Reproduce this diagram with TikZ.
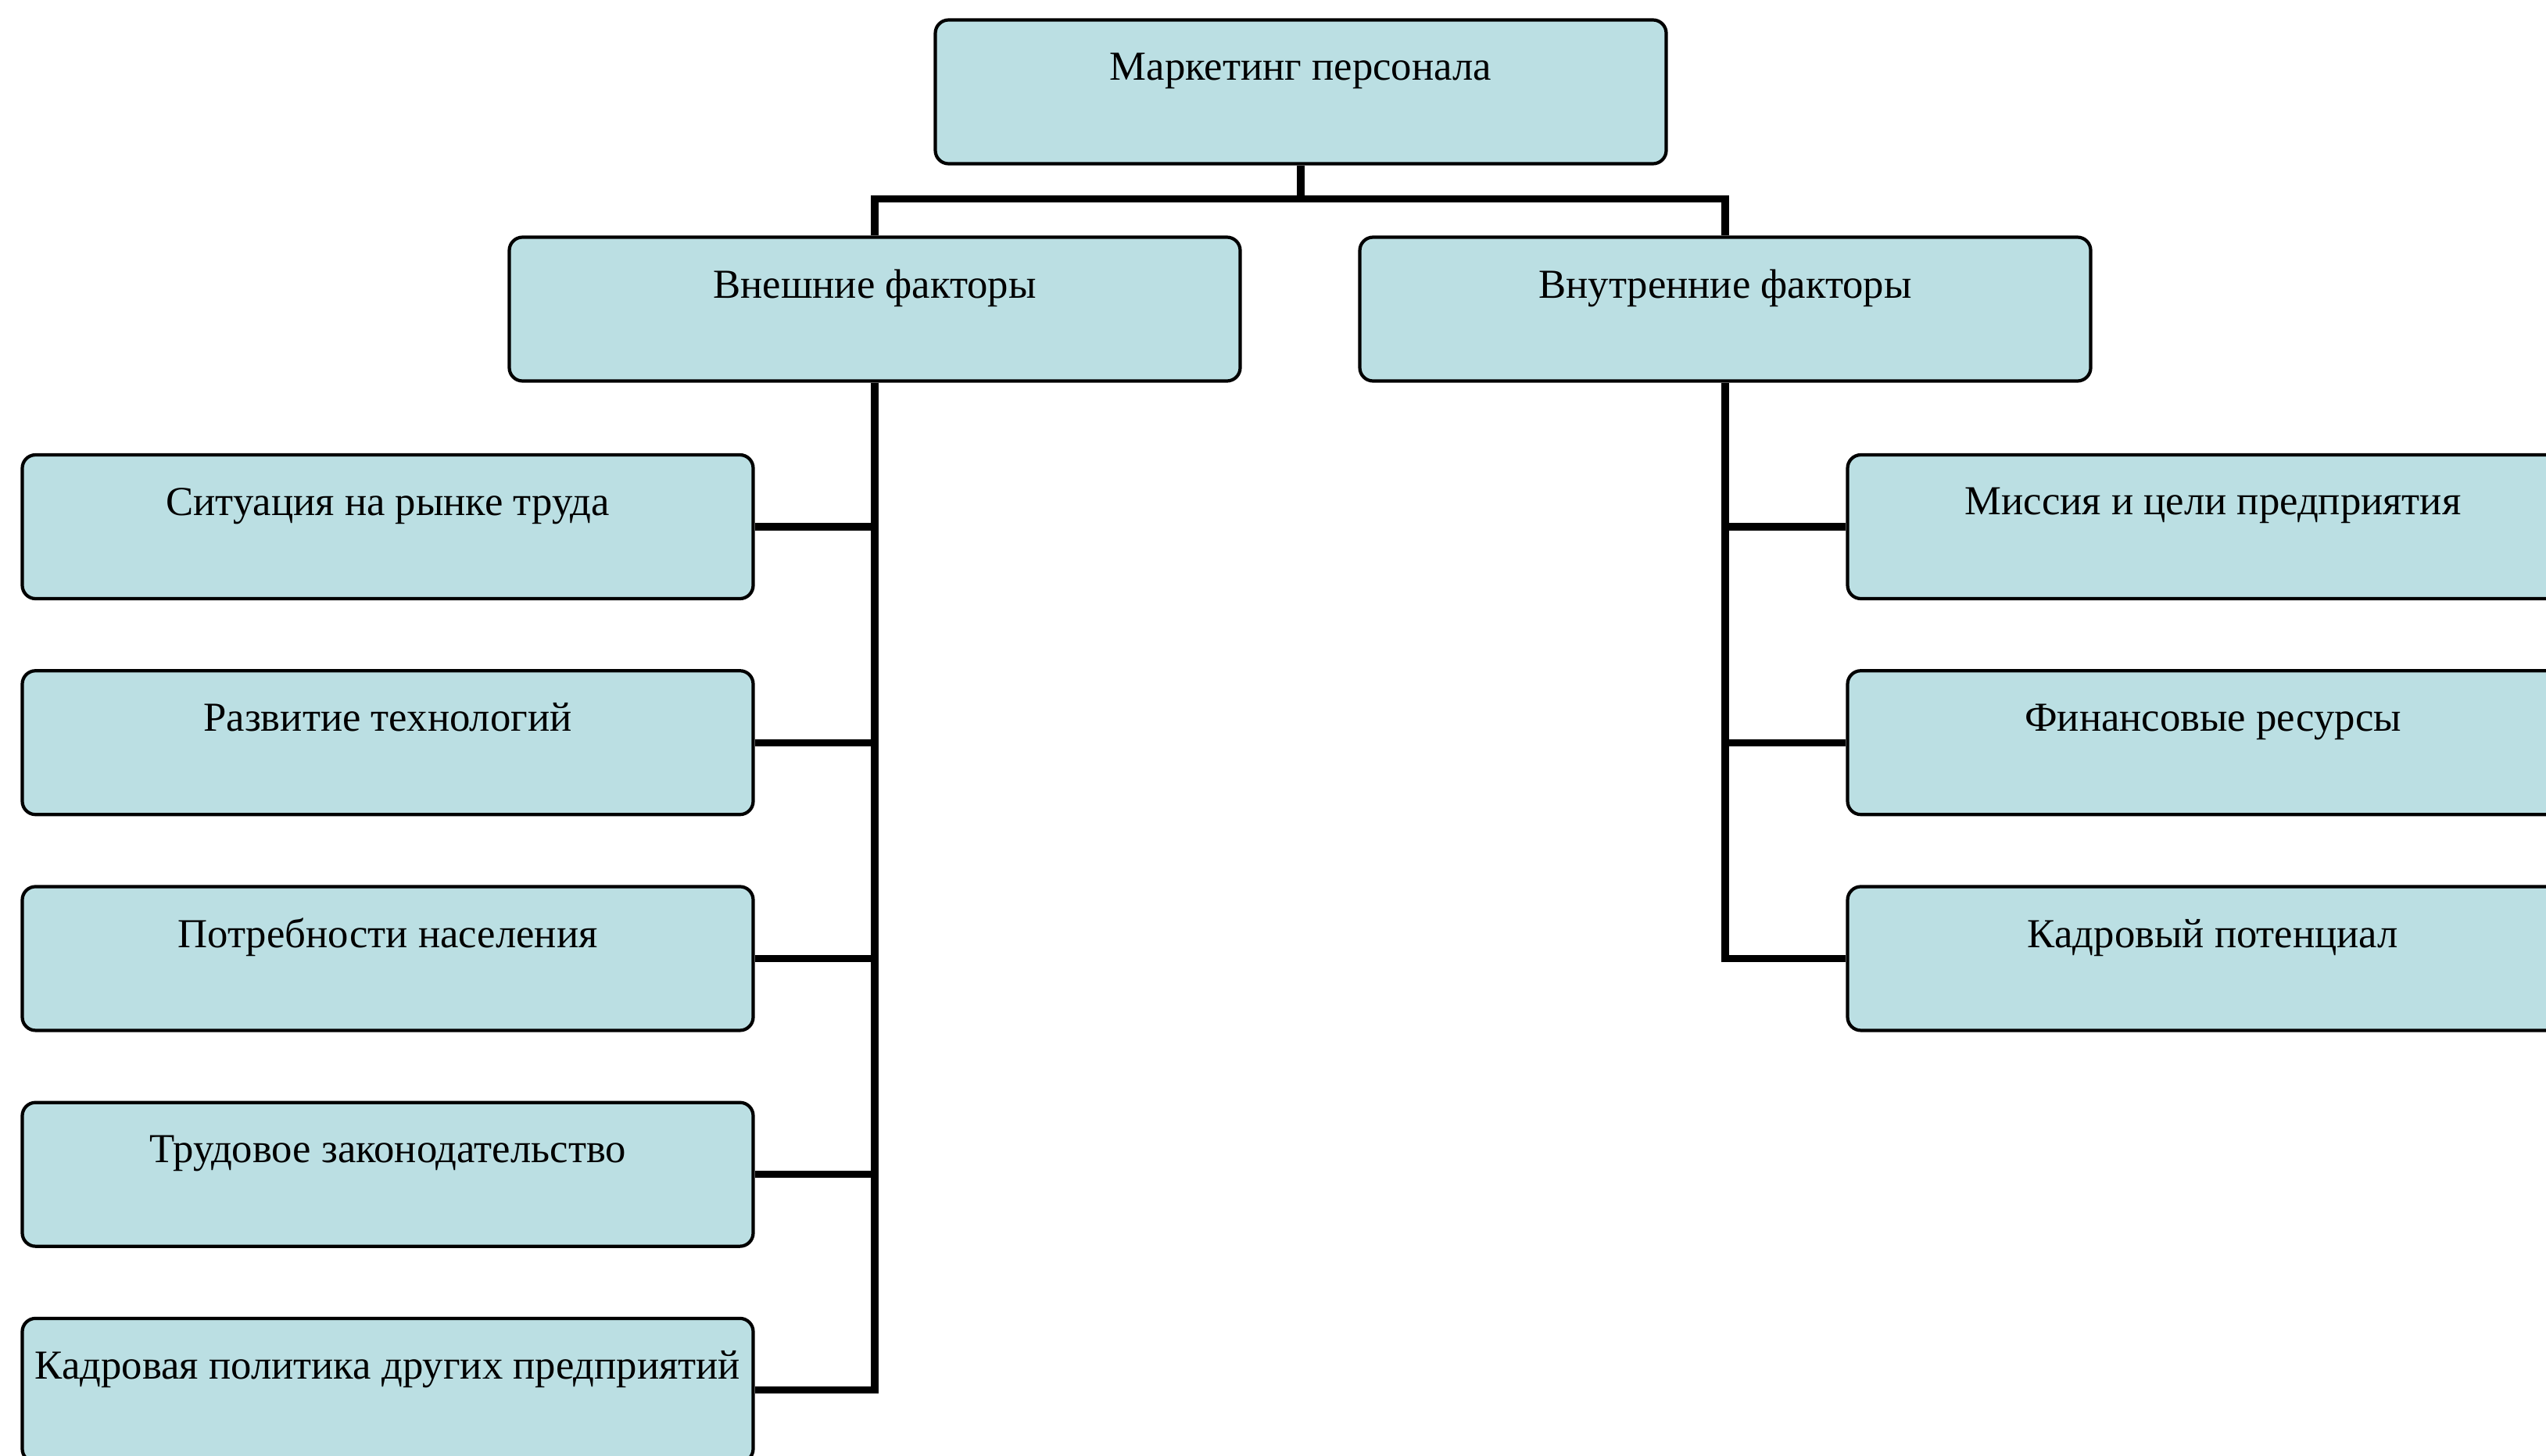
\documentclass[tikz,border=0pt]{standalone}
\usepackage{fontspec}
\setmainfont{Liberation Serif}
\usetikzlibrary{positioning}
\definecolor{boxfill}{RGB}{187,223,227}

\begin{document}
\begin{tikzpicture}[%
  every node/.style={draw,rectangle,rounded corners=0.17cm,fill=boxfill,line width=1.2pt,
    minimum width=9.35cm,minimum height=1.84cm,align=center,
    font=\fontsize{15}{18}\selectfont},
  conn/.style={line width=2.6pt}]
  \useasboundingbox (0,0) rectangle (32.57,-18.62);
  \clip (0,0) rectangle (32.57,-18.62);
  % the boxes
  \node (mp) at (16.64,-1.175) {Маркетинг персонала\\[-5pt]\strut};
  \node (ext) at (11.19,-3.955) {Внешние факторы\\[-5pt]\strut};
  \node (int) at (22.07,-3.955) {Внутренние факторы\\[-5pt]\strut};
  \node (l1) at (4.96,-6.74) {Ситуация на рынке труда\\[-5pt]\strut};
  \node[below=0.88cm of l1] (l2) {Развитие технологий\\[-5pt]\strut};
  \node[below=0.88cm of l2] (l3) {Потребности населения\\[-5pt]\strut};
  \node[below=0.88cm of l3] (l4) {Трудовое законодательство\\[-5pt]\strut};
  \node[below=0.88cm of l4] (l5) {Кадровая политика других предприятий\\[-5pt]\strut};
  \node (r1) at (28.31,-6.74) {Миссия и цели предприятия\\[-5pt]\strut};
  \node[below=0.88cm of r1] (r2) {Финансовые ресурсы\\[-5pt]\strut};
  \node[below=0.88cm of r2] (r3) {Кадровый потенциал\\[-5pt]\strut};
  % the connectors
  \coordinate[below=0.43cm of mp.south] (bus);
  \draw[conn] (mp.south) -- (bus);
  \draw[conn] (ext.north) |- (bus) -| (int.north);
  \draw[conn] (ext.south) |- (l5.east);
  \draw[conn] (l1.east) -- (l1.east -| ext.south);
  \draw[conn] (l2.east) -- (l2.east -| ext.south);
  \draw[conn] (l3.east) -- (l3.east -| ext.south);
  \draw[conn] (l4.east) -- (l4.east -| ext.south);
  \draw[conn] (int.south) |- (r3.west);
  \draw[conn] (r1.west) -- (r1.west -| int.south);
  \draw[conn] (r2.west) -- (r2.west -| int.south);
\end{tikzpicture}
\end{document}
